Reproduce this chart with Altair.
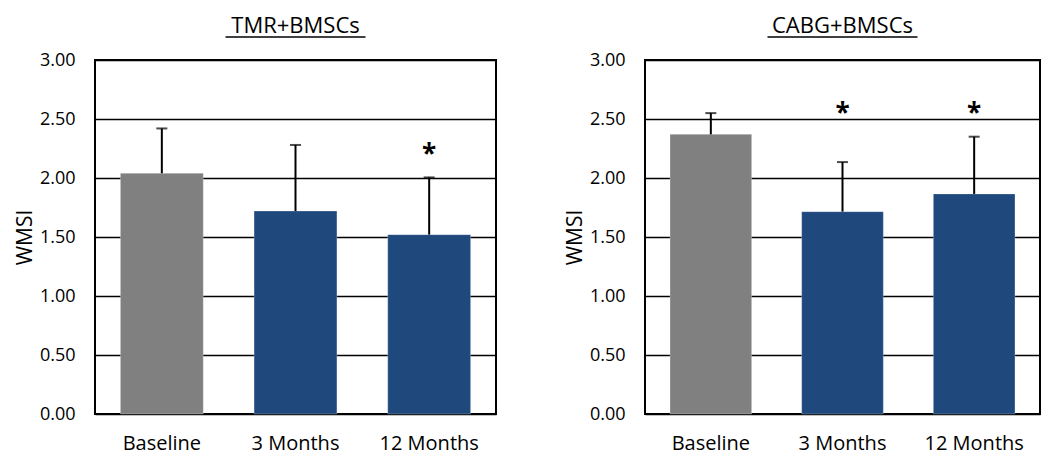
import altair as alt
import pandas as pd

categories = ["Baseline", "3 Months", "12 Months"]
tmr_means = [2.04, 1.72, 1.52]
tmr_errs = [0.38, 0.56, 0.485]
tmr_stars = [None, None, 2.25]
cabg_means = [2.37, 1.715, 1.865]
cabg_errs = [0.18, 0.42, 0.485]
cabg_stars = [None, 2.59, 2.59]
bar_colors = ["#808080", "#1f497d", "#1f497d"]
panel_titles = ["TMR+BMSCs", "CABG+BMSCs"]
y_ticks = [0, 0.5, 1.0, 1.5, 2.0, 2.5, 3.0]

FONT = "Open Sans"


def panel(title, means, errs, stars, width, ul_half):
    df = pd.DataFrame({
        "cat": categories,
        "mean": means,
        "top": [m + e for m, e in zip(means, errs)],
        "color": bar_colors,
    })
    sdf = pd.DataFrame({"cat": categories, "star": stars}).dropna()
    x = alt.X("cat:N", sort=categories, title=None,
              scale=alt.Scale(paddingInner=0.38, paddingOuter=0.19),
              axis=alt.Axis(labelAngle=0, labelFont=FONT, labelFontSize=20,
                            labelColor="black", labelPadding=35,
                            labelBaseline="alphabetic", ticks=False,
                            domain=False, grid=False))
    yscale = alt.Scale(domain=[0, 3], nice=False)
    yaxis = alt.Axis(values=y_ticks, format=".2f", labelFont=FONT,
                     labelFontSize=18, labelColor="black", labelPadding=20,
                     ticks=False, domain=False, grid=True, gridColor="black",
                     gridWidth=1.5, gridOpacity=1, title="WMSI",
                     titleFont=FONT, titleFontSize=21, titleFontWeight="normal",
                     titleColor="black", titlePadding=4)
    base = alt.Chart(df)
    bars = base.mark_bar(strokeWidth=1, stroke="#ffffff", strokeOpacity=0.25).encode(
        x=x,
        y=alt.Y("mean:Q", scale=yscale, axis=yaxis),
        color=alt.Color("color:N", scale=None),
    )
    err = base.mark_rule(color="black", strokeWidth=2).encode(
        x=alt.X("cat:N", sort=categories),
        y=alt.Y("mean:Q", scale=yscale),
        y2="top:Q",
    )
    caps = base.mark_tick(color="black", size=11, thickness=2, orient="horizontal").encode(
        x=alt.X("cat:N", sort=categories),
        y=alt.Y("top:Q", scale=yscale),
    )
    star = alt.Chart(sdf).mark_text(text="*", font=FONT, fontSize=26,
                                    fontWeight="bold", color="black",
                                    baseline="middle", dy=6).encode(
        x=alt.X("cat:N", sort=categories),
        y=alt.Y("star:Q", scale=yscale),
    )
    tdf = pd.DataFrame({"t": [title]})
    ttl = alt.Chart(tdf).mark_text(font=FONT, fontSize=22, color="black",
                                   align="center", baseline="alphabetic").encode(
        text="t:N", x=alt.value(width / 2), y=alt.value(-27)
    )
    ul = alt.Chart(tdf).mark_rule(color="black", strokeWidth=1.5).encode(
        x=alt.value(width / 2 - ul_half), x2=alt.value(width / 2 + ul_half),
        y=alt.value(-23)
    )
    return alt.layer(bars, err, caps, star, ttl, ul).properties(
        width=width, height=354,
    )


left = panel(panel_titles[0], tmr_means, tmr_errs, tmr_stars, 401, 70)
right = panel(panel_titles[1], cabg_means, cabg_errs, cabg_stars, 395, 75)

chart = alt.hconcat(left, right, spacing=66).properties(
    padding={"left": 5, "top": 6, "right": 0, "bottom": 0}
).configure(background="white").configure_view(stroke="black", strokeWidth=2)

chart.save("out.html", embed_options={"renderer": "svg", "actions": False})
